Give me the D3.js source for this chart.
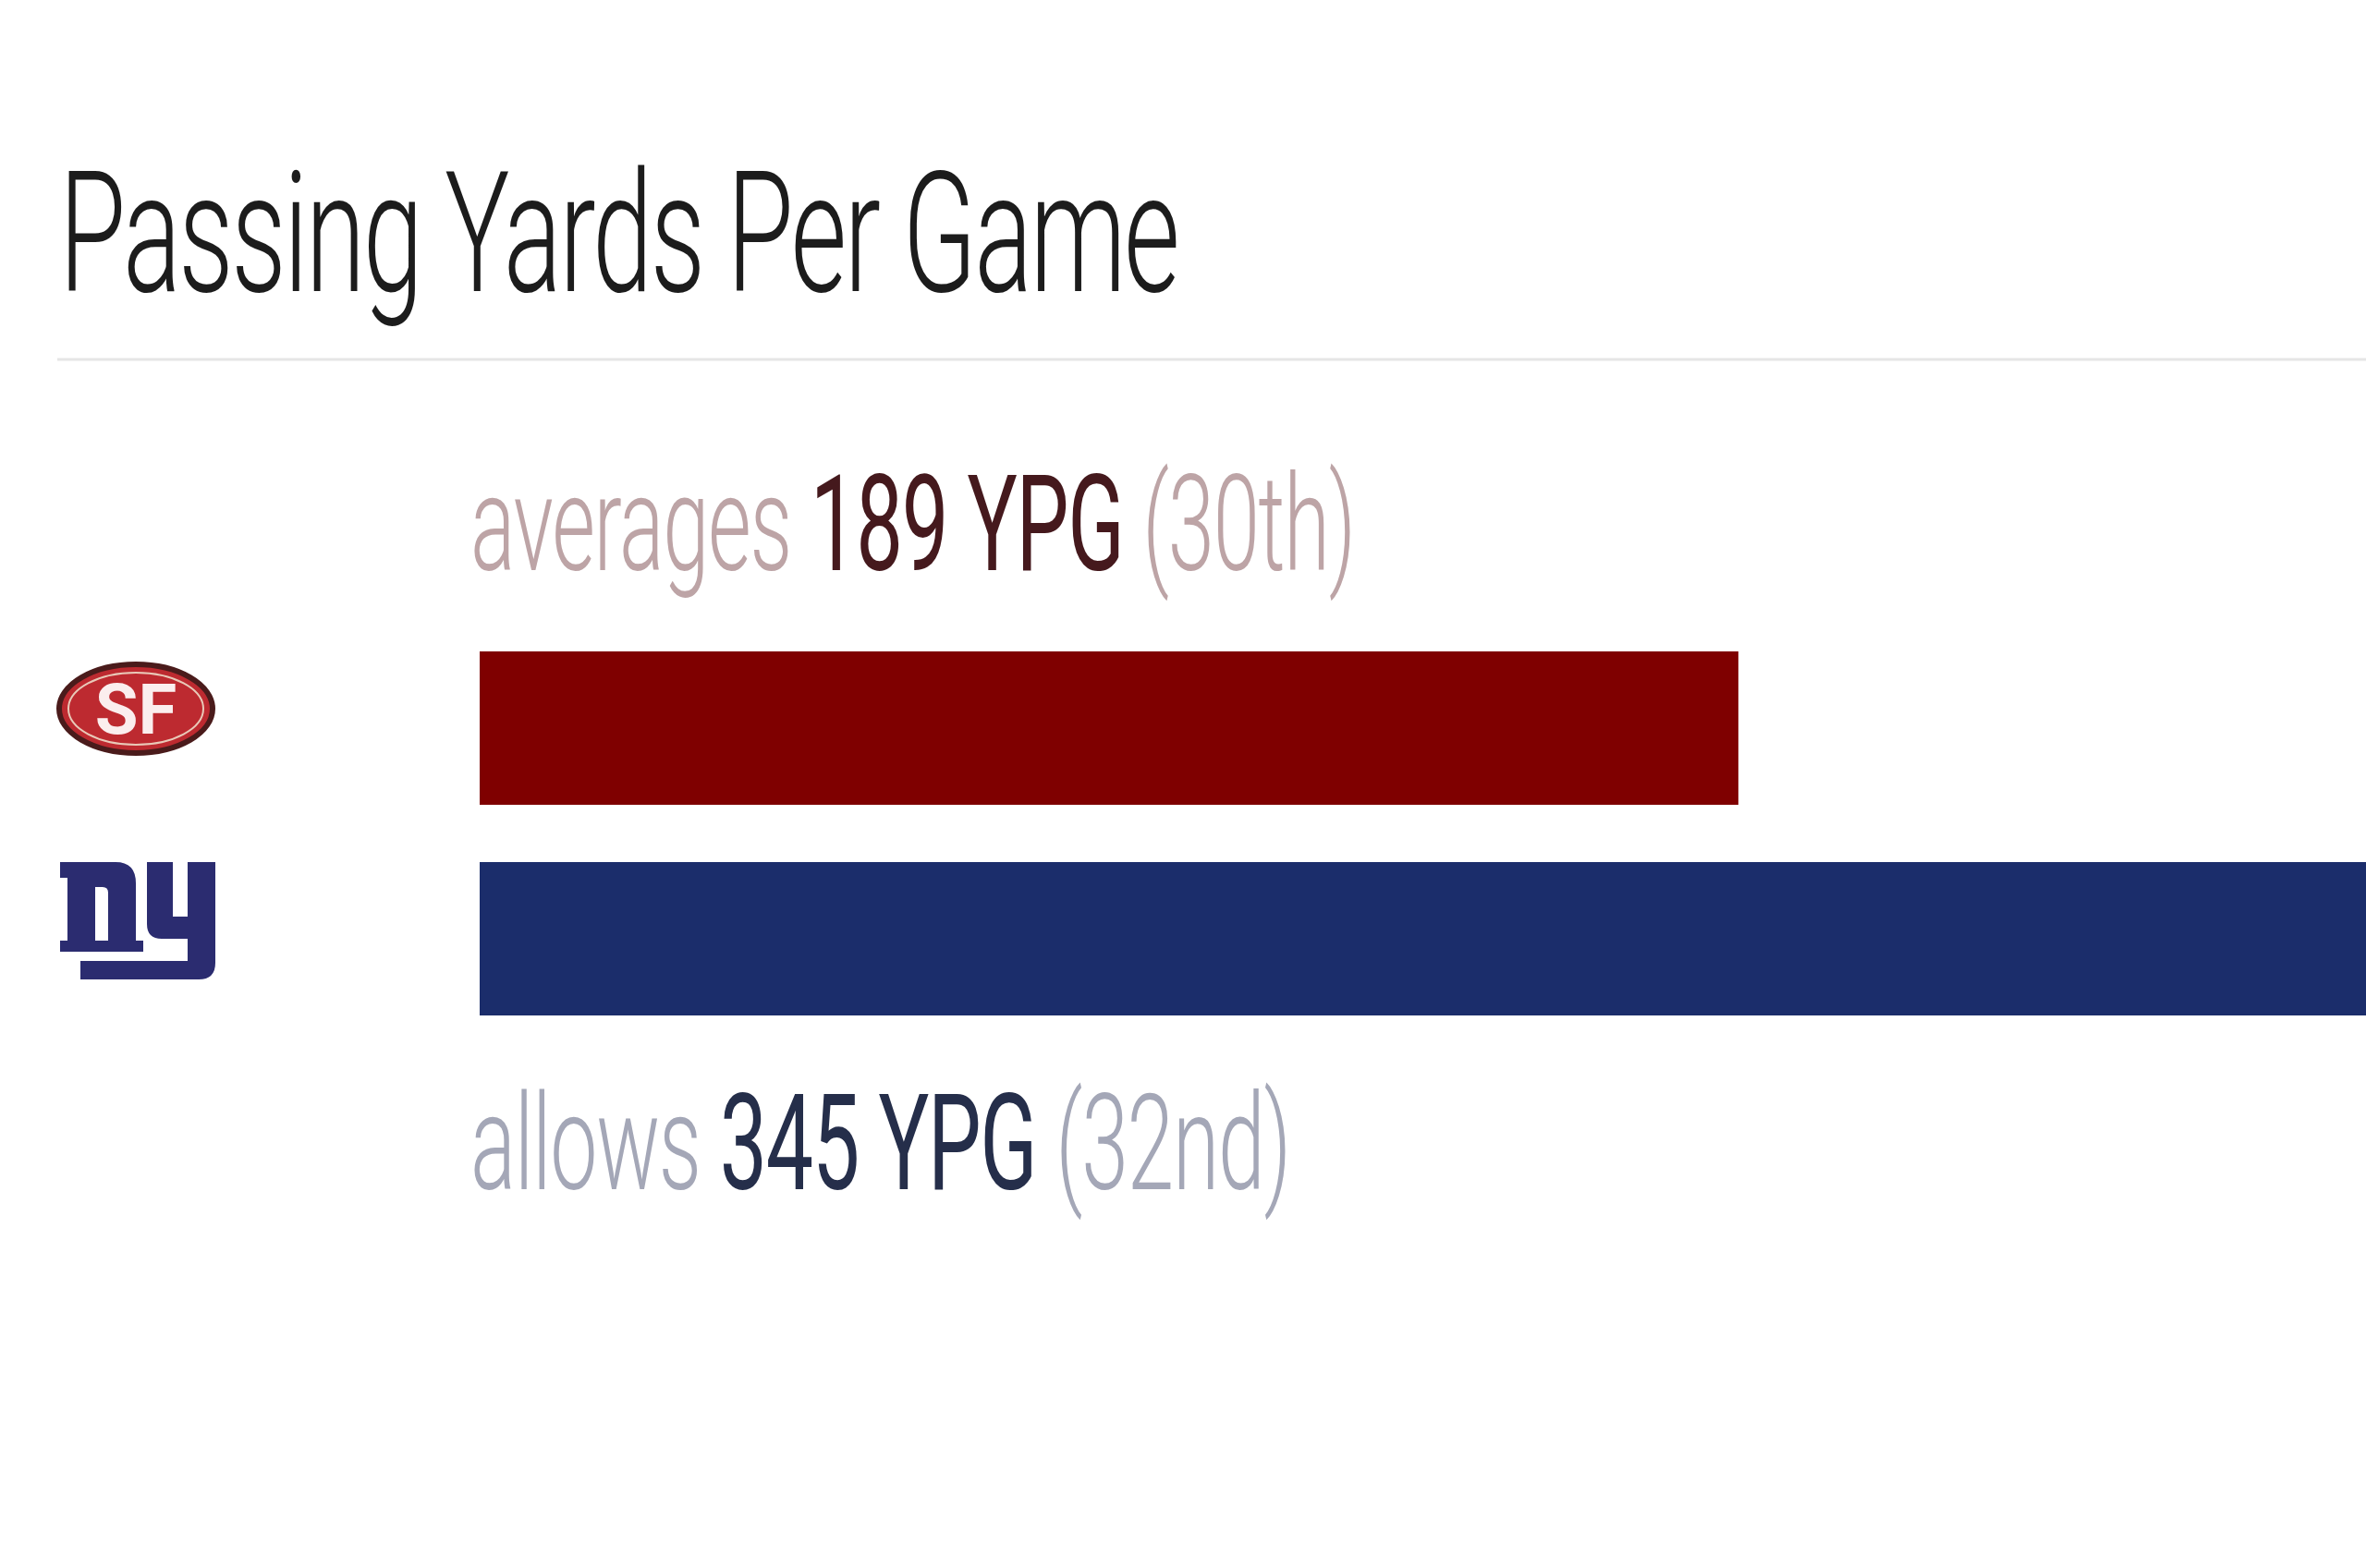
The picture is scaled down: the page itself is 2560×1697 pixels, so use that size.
<!DOCTYPE html>
<html lang="en">
<head>
    <meta charset="UTF-8">
    <title>Passing Yards Per Game</title>
    <script src="https://d3js.org/d3.v7.min.js"></script>
    <style>
        html, body {
            margin: 0;
            padding: 0;
            background: #ffffff;
            overflow: hidden;
        }
        text {
            font-family: Roboto, "Liberation Sans Narrow", sans-serif;
        }
    </style>
</head>
<body>
    <svg id="chart"></svg>

    <script>
        // Data
        const teams = ["49ers", "Giants"];
        const values = [189, 345];
        const verbs = ["averages", "allows"];
        const ranks = ["30th", "32nd"];
        const unit = "YPG";
        const title = "Passing Yards Per Game";

        const barColors = ["#7f0000", "#1b2d6b"];
        const darkText = ["#45191d", "#252e4a"];
        const lightText = ["#bda4a6", "#a4a7b7"];

        const W = 2560, H = 1697;

        const svg = d3.select("#chart")
            .attr("width", W)
            .attr("height", H);

        // Squeeze a text element horizontally so it spans a given width
        function fitWidth(sel, x, y, targetWidth) {
            const w = sel.node().getComputedTextLength();
            sel.attr("transform", `translate(${x},${y}) scale(${targetWidth / w},1)`);
        }

        // Title and rule
        const titleText = svg.append("text")
            .attr("font-size", 182)
            .attr("font-weight", 300)
            .attr("letter-spacing", -4)
            .attr("fill", "#1c1c1c")
            .text(title);
        fitWidth(titleText, 64, 315, 1210);

        svg.append("line")
            .attr("x1", 62).attr("x2", W)
            .attr("y1", 389).attr("y2", 389)
            .attr("stroke", "#e6e6e6")
            .attr("stroke-width", 3);

        // Scales
        const x = d3.scaleLinear()
            .domain([0, d3.max(values)])
            .range([519, 3005]);

        const y = d3.scaleBand()
            .domain(teams)
            .range([705, 1099])
            .paddingInner(0.272);

        // Bars
        svg.append("g")
            .selectAll("rect")
            .data(teams)
            .join("rect")
            .attr("x", x(0))
            .attr("y", d => y(d))
            .attr("width", (d, i) => x(values[i]) - x(0))
            .attr("height", y.bandwidth())
            .attr("fill", (d, i) => barColors[i]);

        // Labels: first above its bar, second below
        const labelWidths = [957, 887];
        teams.forEach((team, i) => {
            const baseline = i === 0 ? y(team) - 88 : y(team) + y.bandwidth() + 188;
            const t = svg.append("text")
                .attr("font-size", 144)
                .attr("font-weight", 300)
                .attr("letter-spacing", -2);
            t.append("tspan").attr("fill", lightText[i]).text(verbs[i] + " ");
            t.append("tspan").attr("fill", darkText[i]).attr("font-weight", 400)
                .text(`${values[i]} ${unit}`);
            t.append("tspan").attr("fill", lightText[i]).text(` (${ranks[i]})`);
            fitWidth(t, 509, baseline, labelWidths[i]);
        });

        // 49ers mark
        const cy0 = y(teams[0]) + y.bandwidth() / 2 - 21;
        const sf = svg.append("g").attr("transform", `translate(147,${cy0})`);
        sf.append("ellipse")
            .attr("rx", 83).attr("ry", 48)
            .attr("fill", "#bd2a30")
            .attr("stroke", "#4a1b1b")
            .attr("stroke-width", 6);
        sf.append("ellipse")
            .attr("rx", 73).attr("ry", 39)
            .attr("fill", "none")
            .attr("stroke", "#e9c9b8")
            .attr("stroke-width", 2);
        sf.append("text")
            .attr("text-anchor", "middle")
            .attr("y", 27)
            .attr("font-family", "DejaVu Serif")
            .attr("font-weight", 700)
            .attr("font-size", 76)
            .attr("fill", "#fbeeee")
            .text("SF");

        // Giants mark, block letters "ny" with the tail running under the n
        const cy1 = y(teams[1]) + y.bandwidth() / 2 - 20;
        const ny = svg.append("g").attr("transform", `translate(65,${cy1 - 66})`);
        const nyColor = "#2b2c70";
        const nyShapes = [
            // n
            "M0,3 H60 Q82,3 82,26 V100 H52 V36 Q52,30 46,30 H38 V100 H8 V20 H0 Z",
            "M0,88 H46 V100 H0 Z",
            "M44,88 H90 V100 H44 Z",
            // y
            "M94,3 H122 V62 H138 V3 H168 V112 Q168,130 150,130 H22 V110 H138 V86 H110 Q94,86 94,70 Z"
        ];
        ny.selectAll("path")
            .data(nyShapes)
            .join("path")
            .attr("d", d => d)
            .attr("fill", nyColor);
    </script>
</body>
</html>
